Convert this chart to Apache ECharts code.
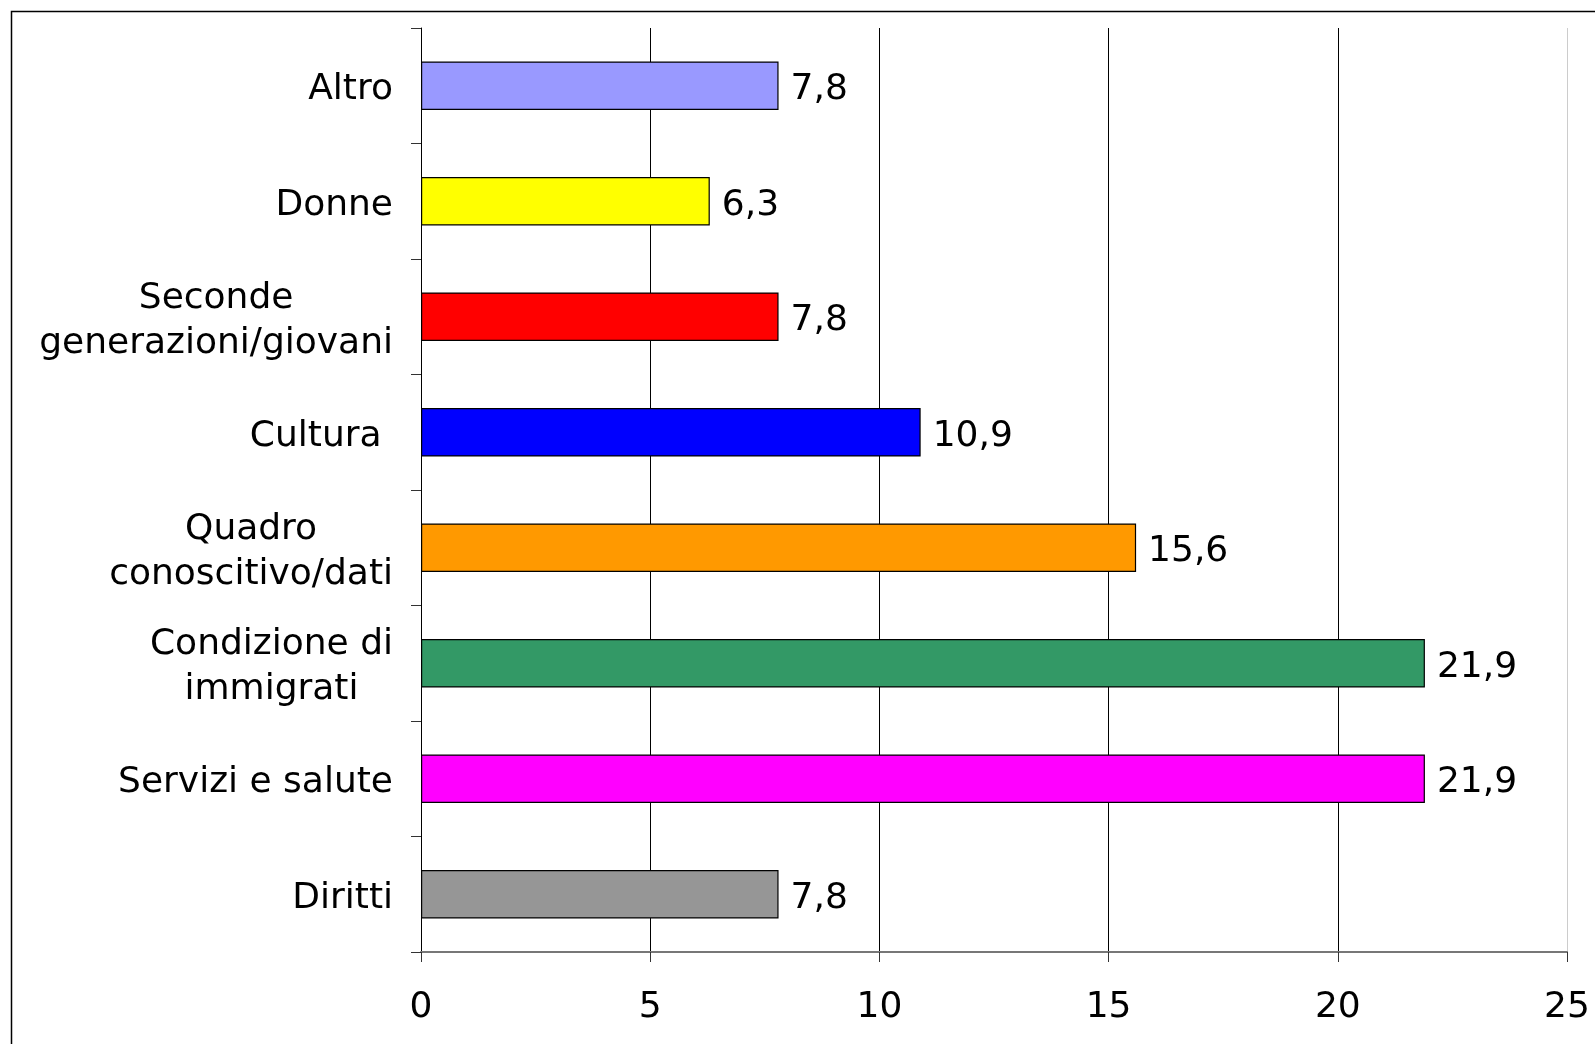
<!DOCTYPE html>
<html>
<head>
<meta charset="utf-8">
<script src="https://cdn.jsdelivr.net/npm/echarts@6/dist/echarts.min.js"></script>
<style>html,body{margin:0;padding:0;background:#fff;}#c{width:1595px;height:1044px;}</style>
</head>
<body>
<div id="c"></div>
<script>
const categories = ['Diritti', 'Servizi e salute', 'Condizione di\nimmigrati', 'Quadro\nconoscitivo/dati', 'Cultura ', 'Seconde\ngenerazioni/giovani', 'Donne', 'Altro'];
const values = [7.8, 21.9, 21.9, 15.6, 10.9, 7.8, 6.3, 7.8];
const barColors = ['#969696', '#FF00FF', '#339966', '#FF9900', '#0000FF', '#FF0000', '#FFFF00', '#9999FF'];
const xTicks = [0, 5, 10, 15, 20, 25];

const FONT = 'DejaVu Sans';
const FS = 36;
const chart = echarts.init(document.getElementById('c'));
chart.setOption({
  animation: false,
  backgroundColor: '#fff',
  graphic: [{
    type: 'rect', left: 9, top: 9, z: -10,
    shape: { width: 1700, height: 1100 },
    style: { fill: 'none', stroke: '#000', lineWidth: 1.5 }
  }],
  grid: { left: 421, right: 28, top: 28, bottom: 92, containLabel: false },
  xAxis: {
    type: 'value', min: xTicks[0], max: xTicks[xTicks.length - 1], interval: 5,
    axisLine: { show: true, lineStyle: { color: '#777', width: 2 } },
    axisTick: { show: true, length: 10, lineStyle: { color: '#333', width: 1 } },
    axisLabel: { margin: 38, fontFamily: FONT, fontSize: FS, color: '#000',
      formatter: v => String(v) },
    splitLine: { show: true, lineStyle: { color: ['#000', '#000', '#000', '#000', '#000', '#ccc'], width: 1 } }
  },
  yAxis: {
    type: 'category', data: categories,
    axisLine: { show: true, lineStyle: { color: '#000', width: 1 } },
    axisTick: { show: true, length: 10, lineStyle: { color: '#333' } },
    axisLabel: {
      margin: 28, fontFamily: FONT, fontSize: FS, color: '#000', lineHeight: 45,
      padding: [8, 0, 0, 0],
      formatter: v => v.split('\n').map(l => '{c|' + l + '}').join('\n'),
      rich: { c: { align: 'center', fontFamily: FONT, fontSize: FS, color: '#000', lineHeight: 45 } }
    }
  },
  series: [{
    type: 'bar',
    data: values.map((v, i) => ({ value: v, itemStyle: { color: barColors[i] } })),
    barWidth: '42%',
    itemStyle: { borderColor: '#000', borderWidth: 1.2 },
    label: {
      show: true, position: 'right', distance: 12, offset: [0, 4],
      fontFamily: FONT, fontSize: FS, color: '#000',
      formatter: p => String(p.value).replace('.', ',')
    }
  }]
});
</script>
</body>
</html>
